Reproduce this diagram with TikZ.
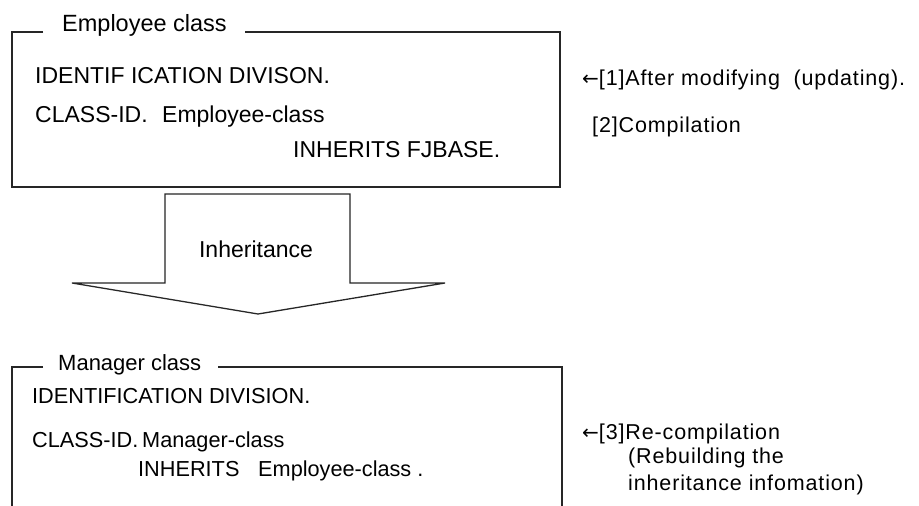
\documentclass[tikz,border=0pt]{standalone}
\usepackage{fontspec}
\setmainfont{Liberation Sans}
\newfontfamily\arrowfont{DejaVu Sans}
\newcommand{\larr}{{\arrowfont\fontsize{20}{24}\selectfont ←}}
\begin{document}
\begin{tikzpicture}[x=1pt,y=-1pt,
  txt/.style={anchor=base west,inner sep=0pt,font=\fontsize{22.5}{27}\selectfont},
  side/.style={anchor=base west,inner sep=0pt,font=\fontsize{21.5}{25}\selectfont\addfontfeatures{LetterSpace=4}},
  frame/.style={line width=1.3pt,draw=black!85,line join=miter},
  bigarrow/.style={line width=1.3pt,draw=black!85,fill=white,line join=miter}]
\useasboundingbox[fill=white] (0,0) rectangle (919,506);
% ---- Employee class frame
\node[txt,font=\fontsize{23.5}{27}\selectfont] (etitle) at (62,31) {Employee class};
\coordinate (etl) at (12,32);
\coordinate (ebr) at (560,187);
\draw[frame] (43,32) -- (etl) |- (ebr) |- (245,32);
\node[txt,font=\fontsize{23}{27}\selectfont] (e1) at (35,83) {IDENTIF ICATION DIVISON.};
\node[txt,font=\fontsize{23}{27}\selectfont] (e2) at (35,122) {CLASS-ID.};
\node[txt,font=\fontsize{23}{27}\selectfont] (e3) at (162,122) {Employee-class};
\node[txt,font=\fontsize{23}{27}\selectfont] (e4) at (293,157) {INHERITS FJBASE.};
% ---- side notes
\node[side] (n1) at (582,85) {\larr[1]After modifying\ \ (updating).};
\node[side] (n2) at (592,132) {[2]Compilation};
% ---- inheritance arrow
\draw[bigarrow] (165,283) -- (165,194) -- (350,194) -- (350,283) -- (445,283) -- (258,314) -- (72,283) -- cycle;
\node[anchor=base,inner sep=0pt,font=\fontsize{23}{27}\selectfont] (inh) at (256,257) {Inheritance};
% ---- Manager class frame
\node[txt,font=\fontsize{22}{27}\selectfont] (mtitle) at (58,370) {Manager class};
\coordinate (mtl) at (12,367);
\coordinate (mbl) at (12,510);
\coordinate (mtr) at (562,367);
\coordinate (mbr) at (562,510);
\draw[frame] (43,367) -- (mtl) -- (mbl);
\draw[frame] (218,367) -- (mtr) -- (mbr);
\node[txt,font=\fontsize{21.7}{27}\selectfont] (m1) at (32,403) {IDENTIFICATION DIVISION.};
\node[txt,font=\fontsize{21.7}{27}\selectfont] (m2) at (32,447) {CLASS-ID.};
\node[txt,font=\fontsize{21.7}{27}\selectfont] (m3) at (142,447) {Manager-class};
\node[txt,font=\fontsize{21.7}{27}\selectfont] (m4) at (138,476) {INHERITS};
\node[txt,font=\fontsize{21.7}{27}\selectfont] (m5) at (258,476) {Employee-class .};
% ---- side note 3
\node[side] (n3) at (582,439) {\larr[3]Re-compilation};
\node[side] (n4) at (628,463) {(Rebuilding the};
\node[side] (n5) at (628,490) {inheritance infomation)};
\end{tikzpicture}
\end{document}
